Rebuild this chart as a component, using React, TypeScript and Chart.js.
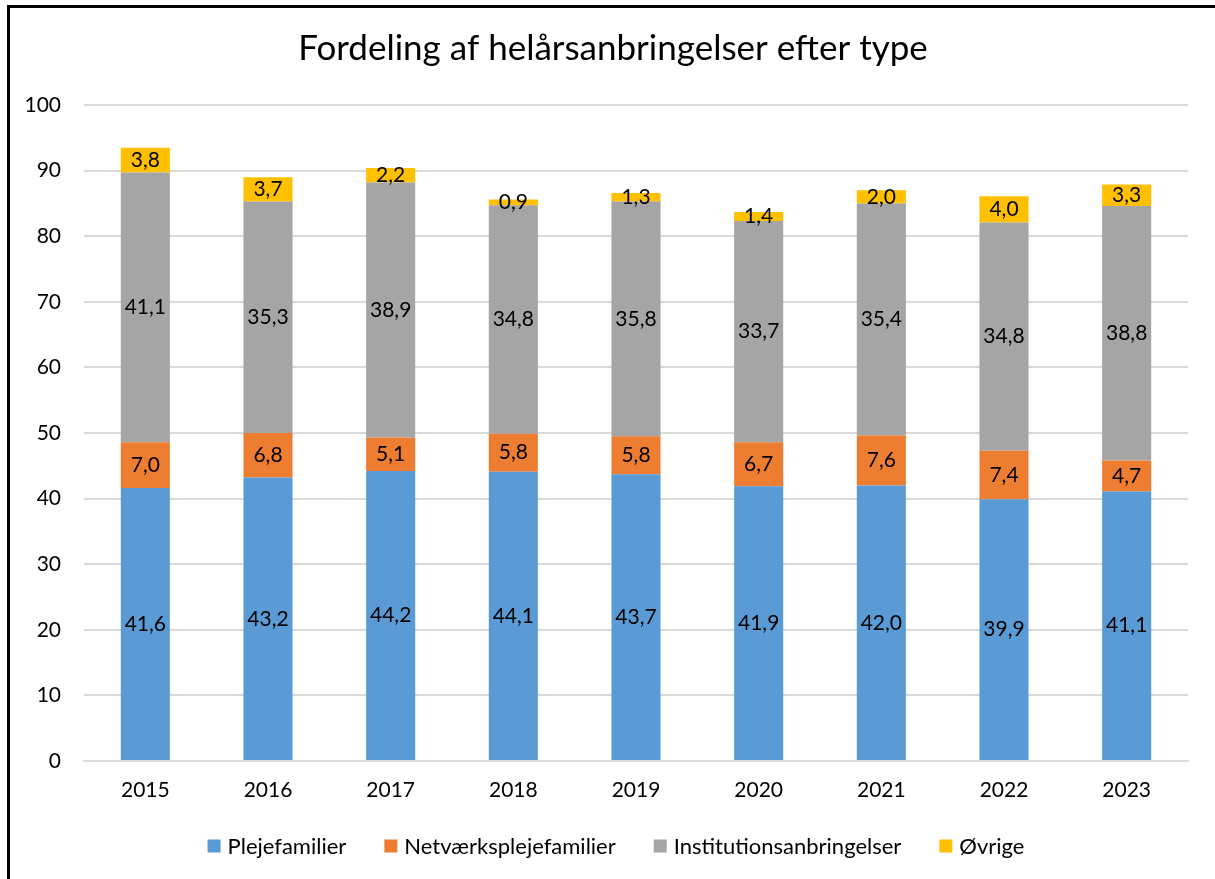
import React, { useEffect, useRef } from "react";
import { Chart, registerables } from "chart.js";

Chart.register(...registerables);

const years = ["2015", "2016", "2017", "2018", "2019", "2020", "2021", "2022", "2023"];
const plejefamilier = [41.6, 43.2, 44.2, 44.1, 43.7, 41.9, 42.0, 39.9, 41.1];
const netvaerk = [7.0, 6.8, 5.1, 5.8, 5.8, 6.7, 7.6, 7.4, 4.7];
const institution = [41.1, 35.3, 38.9, 34.8, 35.8, 33.7, 35.4, 34.8, 38.8];
const oevrige = [3.8, 3.7, 2.2, 0.9, 1.3, 1.4, 2.0, 4.0, 3.3];
const seriesNames = ["Plejefamilier", "Netværksplejefamilier", "Institutionsanbringelser", "Øvrige"];
const seriesColors = ["#5B9BD5", "#ED7D31", "#A5A5A5", "#FFC000"];
const titleText = "Fordeling af helårsanbringelser efter type";

const FONT = "Lato, 'Open Sans', sans-serif";

const labelPlugin = {
  id: "segLabels",
  afterDatasetsDraw(chart: any) {
    const ctx = chart.ctx;
    ctx.save();
    ctx.font = `21px ${FONT}`;
    ctx.fillStyle = "#000";
    ctx.textAlign = "center";
    ctx.textBaseline = "middle";
    chart.data.datasets.forEach((ds: any, di: number) => {
      const meta = chart.getDatasetMeta(di);
      meta.data.forEach((bar: any, i: number) => {
        const v = ds.data[i];
        const y = (bar.y + bar.base) / 2;
        ctx.fillText(v.toFixed(1).replace(".", ","), bar.x, y);
      });
    });
    ctx.restore();
  },
};

const titlePlugin = {
  id: "topTitle",
  afterDraw(chart: any) {
    const ctx = chart.ctx;
    ctx.save();
    ctx.font = `35px ${FONT}`;
    ctx.fillStyle = "#000";
    ctx.textAlign = "center";
    ctx.textBaseline = "middle";
    ctx.fillText(titleText, 613, 49);
    ctx.restore();
  },
};

const legendPlugin = {
  id: "bottomLegend",
  afterDraw(chart: any) {
    const ctx = chart.ctx;
    const box = 13;
    const gapText = 7;
    const gapItem = 38;
    const cy = 846;
    const cx = 616;
    ctx.save();
    ctx.font = `22px ${FONT}`;
    ctx.textBaseline = "middle";
    ctx.textAlign = "left";
    const items = chart.data.datasets.map((ds: any) => ({
      label: ds.label,
      color: ds.backgroundColor,
      w: ctx.measureText(ds.label).width,
    }));
    const total = items.reduce((s: number, it: any) => s + box + gapText + it.w, 0) + gapItem * (items.length - 1);
    let x = cx - total / 2;
    items.forEach((it: any) => {
      ctx.fillStyle = it.color;
      ctx.fillRect(x, cy - box / 2, box, box);
      x += box + gapText;
      ctx.fillStyle = "#000";
      ctx.fillText(it.label, x, cy + 1);
      x += it.w + gapItem;
    });
    ctx.restore();
  },
};

export default function App() {
  const ref = useRef<HTMLCanvasElement>(null);
  useEffect(() => {
    if (!ref.current) return;
    const chart = new Chart(ref.current, {
      type: "bar",
      data: {
        labels: years,
        datasets: seriesNames.map((name, i) => ({
          label: name,
          data: [plejefamilier, netvaerk, institution, oevrige][i],
          backgroundColor: seriesColors[i],
        })),
      },
      options: {
        animation: false,
        responsive: false,
        maintainAspectRatio: false,
        devicePixelRatio: 1,
        layout: { padding: { top: 105, bottom: 82, left: 0, right: 27 } },
        datasets: { bar: { barPercentage: 0.8, categoryPercentage: 0.5 } } as any,
        scales: {
          x: {
            stacked: true,
            grid: { display: false, drawTicks: false },
            border: { display: true, color: "#D9D9D9", width: 2 },
            ticks: { color: "#000", font: { family: FONT, size: 21 }, padding: 17 },
            afterFit: (s: any) => { s.height = 36; },
          },
          y: {
            stacked: true,
            min: 0,
            max: 100,
            grid: { color: "#D9D9D9", lineWidth: 2, drawTicks: false },
            border: { display: false },
            ticks: { stepSize: 10, color: "#000", font: { family: FONT, size: 21 }, padding: 23 },
            afterFit: (s: any) => { s.width = 84; },
          },
        },
        plugins: {
          title: { display: false },
          legend: { display: false },
          tooltip: { enabled: false },
        },
      },
      plugins: [labelPlugin, titlePlugin, legendPlugin],
    });
    return () => chart.destroy();
  }, []);
  return (
    <div style={{ position: "absolute", left: 0, top: 0, width: 1215, height: 879, overflow: "hidden", background: "#fff" }}>
      <canvas ref={ref} width={1215} height={879} style={{ display: "block" }} />
      <div style={{ position: "absolute", left: 7, top: 5, width: 1300, height: 1000, borderLeft: "3px solid #000", borderTop: "3px solid #000", pointerEvents: "none" }} />
    </div>
  );
}
